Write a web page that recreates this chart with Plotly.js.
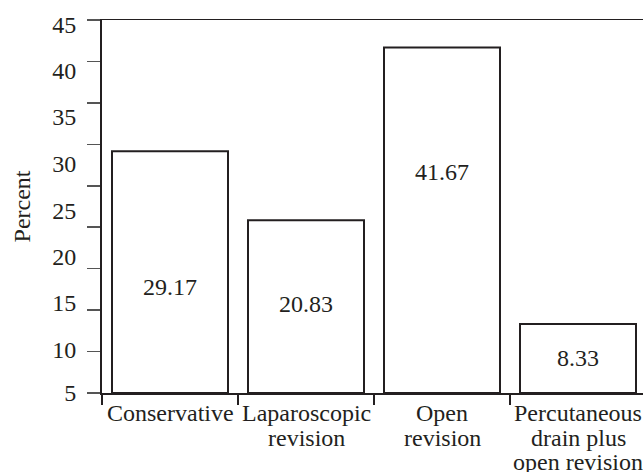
<!DOCTYPE html>
<html>
<head>
<meta charset="utf-8">
<script src="https://cdn.plot.ly/plotly-3.0.1.min.js"></script>
<style>
  html, body { margin: 0; padding: 0; overflow: hidden; background: #fff; }
  #chart { width: 650px; height: 472px; }
</style>
</head>
<body>
<div id="chart"></div>
<script>
// ---- data ----
const categories = ['Conservative', 'Laparoscopic revision', 'Open revision', 'Percutaneous drain plus open revision'];
const categoryLines = [
  ['Conservative'],
  ['Laparoscopic', 'revision'],
  ['Open', 'revision'],
  ['Percutaneous', 'drain plus', 'open revision']
];
const percents = [29.17, 20.83, 41.67, 8.33];
const valueLabels = ['29.17', '20.83', '41.67', '8.33'];
const valueLabelY = [12.8, 10.7, 26.7, 4.2];
const yTickVals = [0, 5, 10, 15, 20, 25, 30, 35, 40, 45];
const yLabelText = ['45', '40', '35', '30', '25', '20', '15', '10', '5'];
const yLabelPos = [44.4, 38.9, 33.3, 27.7, 22.0, 16.4, 10.9, 5.2, 0];

const ink = '#231f20';
const FONT = 'Liberation Serif, Times New Roman, serif';

const trace = {
  type: 'bar',
  x: categories,
  y: percents,
  width: 0.853,
  marker: { color: '#ffffff', line: { color: ink, width: 2 } },
  hoverinfo: 'skip',
  showlegend: false
};

const annotations = [];
categories.forEach((c, i) => {
  annotations.push({
    x: c, y: valueLabelY[i], xref: 'x', yref: 'y',
    text: valueLabels[i], showarrow: false,
    font: { family: FONT, size: 24, color: ink },
    xanchor: 'center', yanchor: 'middle'
  });
  categoryLines[i].forEach((line, j) => {
    annotations.push({
      x: c, y: 0, xref: 'x', yref: 'paper',
      text: line, showarrow: false,
      font: { family: FONT, size: 24, color: ink },
      xanchor: 'center', yanchor: 'middle',
      yshift: -(20 + j * 24.5)
    });
  });
});

const layout = {
  width: 650, height: 472,
  margin: { l: 102, r: 4, t: 20, b: 79 },
  paper_bgcolor: '#ffffff', plot_bgcolor: '#ffffff',
  font: { family: FONT, size: 24, color: ink },
  bargap: 0,
  xaxis: {
    type: 'category',
    categoryarray: categories,
    range: [-0.5, 3.5],
    showline: true, linecolor: ink, linewidth: 1.5, mirror: true,
    ticks: 'outside', tickson: 'boundaries', ticklen: 10, tickwidth: 2, tickcolor: ink,
    showticklabels: false, showgrid: false, zeroline: false, fixedrange: true
  },
  yaxis: {
    range: [0, 45],
    tickvals: yTickVals,
    showline: true, linecolor: ink, linewidth: 2.5, mirror: true,
    ticks: 'outside', ticklen: 13, tickwidth: 1.5, tickcolor: '#555',
    showticklabels: false, showgrid: false, zeroline: false, fixedrange: true
  },
  yaxis2: {
    overlaying: 'y', side: 'left',
    range: [0, 45],
    tickvals: yLabelPos, ticktext: yLabelText,
    ticks: 'outside', ticklen: 13, tickcolor: 'rgba(0,0,0,0)',
    ticklabelstandoff: 7,
    tickfont: { family: FONT, size: 24, color: ink },
    showline: false, showgrid: false, zeroline: false, fixedrange: true,
    title: { text: 'Percent', font: { family: FONT, size: 24, color: ink }, standoff: 14 }
  },
  annotations: annotations
};

// dummy invisible trace to activate yaxis2
const labelTrace = {
  type: 'scatter', x: [categories[0]], y: [null], yaxis: 'y2',
  mode: 'markers', hoverinfo: 'skip', showlegend: false
};

Plotly.newPlot('chart', [trace, labelTrace], layout, { displayModeBar: false, staticPlot: true });
</script>
</body>
</html>
